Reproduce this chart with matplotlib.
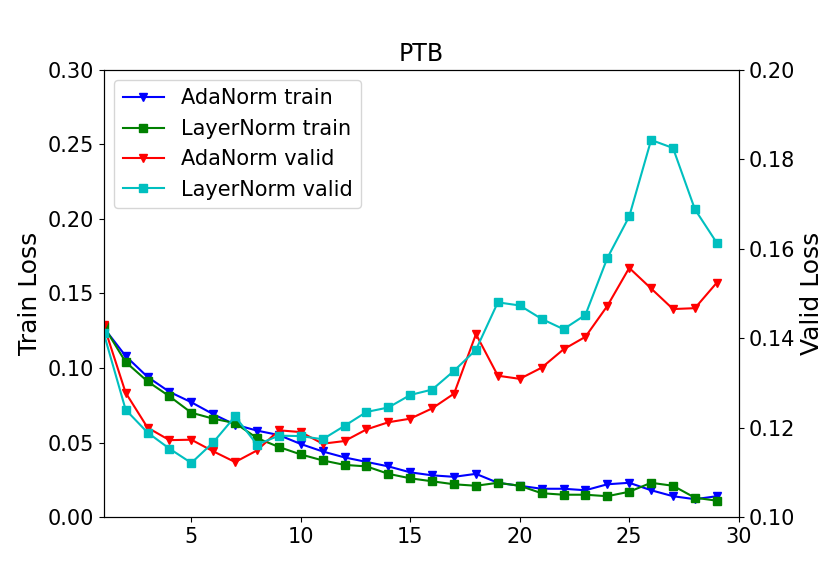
import matplotlib
matplotlib.use("Agg")
import matplotlib.pyplot as plt

epochs = list(range(1, 30))

ada_train = [0.127, 0.108, 0.094, 0.084, 0.077, 0.069, 0.062, 0.058, 0.055, 0.049,
             0.044, 0.040, 0.037, 0.034, 0.030, 0.028, 0.027, 0.029, 0.023, 0.021,
             0.019, 0.019, 0.018, 0.022, 0.023, 0.018, 0.014, 0.012, 0.014]
ln_train = [0.128, 0.104, 0.091, 0.081, 0.070, 0.066, 0.063, 0.053, 0.047, 0.042,
            0.038, 0.035, 0.034, 0.029, 0.026, 0.024, 0.022, 0.021, 0.023, 0.021,
            0.016, 0.015, 0.015, 0.014, 0.017, 0.023, 0.021, 0.013, 0.011]
ada_valid = [0.1429, 0.1278, 0.1200, 0.1172, 0.1173, 0.1147, 0.1123, 0.1149, 0.1194, 0.1190,
             0.1164, 0.1170, 0.1196, 0.1212, 0.1220, 0.1243, 0.1276, 0.1409, 0.1316, 0.1309,
             0.1334, 0.1375, 0.1403, 0.1472, 0.1557, 0.1511, 0.1465, 0.1467, 0.1524]
ln_valid = [0.1411, 0.1240, 0.1189, 0.1153, 0.1121, 0.1167, 0.1225, 0.1162, 0.1182, 0.1181,
            0.1174, 0.1204, 0.1235, 0.1245, 0.1273, 0.1285, 0.1327, 0.1374, 0.1480, 0.1473,
            0.1443, 0.1420, 0.1452, 0.1579, 0.1672, 0.1843, 0.1825, 0.1688, 0.1613]

fig, ax = plt.subplots(figsize=(8.3, 5.81), dpi=100)
fig.subplots_adjust(left=0.125, right=0.89, top=0.88, bottom=0.11)
ax2 = ax.twinx()

l1, = ax.plot(epochs, ada_train, color="b", marker="v", label="AdaNorm train")
l2, = ax.plot(epochs, ln_train, color="g", marker="s", label="LayerNorm train")
l3, = ax2.plot(epochs, ada_valid, color="r", marker="v", label="AdaNorm valid")
l4, = ax2.plot(epochs, ln_valid, color="c", marker="s", label="LayerNorm valid")

ax.set_xlim(1, 30)
ax.set_ylim(0, 0.30)
ax2.set_ylim(0.10, 0.20)
ax.set_xticks([5, 10, 15, 20, 25, 30])
ax.set_yticks([0.0, 0.05, 0.10, 0.15, 0.20, 0.25, 0.30])
ax2.set_yticks([0.10, 0.12, 0.14, 0.16, 0.18, 0.20])
ax.tick_params(labelsize=15)
ax2.tick_params(labelsize=15)
ax.set_ylabel("Train Loss", fontsize=18)
ax2.set_ylabel("Valid Loss", fontsize=18)
ax.set_title("PTB", fontsize=17)

ax.legend(handles=[l1, l2, l3, l4], loc="upper left", fontsize=15)

fig.savefig("out.png", dpi=100)
